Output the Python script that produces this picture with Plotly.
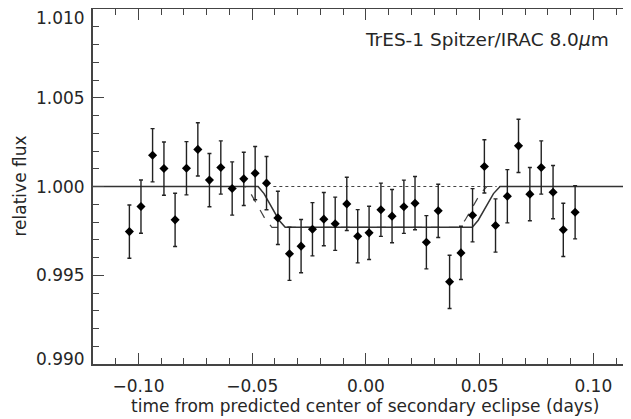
import plotly.graph_objects as go

# Observations (time from predicted center, days) and relative flux
time_days = [-0.1040, -0.0989, -0.0938, -0.0888, -0.0839, -0.0789, -0.0739, -0.0688,
             -0.0638, -0.0588, -0.0537, -0.0487, -0.0437, -0.0387, -0.0336, -0.0285,
             -0.0235, -0.0185, -0.0135, -0.0084, -0.0036, 0.0014, 0.0066, 0.0115,
             0.0167, 0.0216, 0.0266, 0.0318, 0.0368, 0.0418, 0.0469, 0.0521,
             0.0570, 0.0622, 0.0671, 0.0721, 0.0771, 0.0823, 0.0868, 0.0920]
rel_flux = [0.99746, 0.99887, 1.00176, 1.00101, 0.99812, 1.00103, 1.00209, 1.00036,
            1.00107, 0.99989, 1.00043, 1.00075, 1.00019, 0.99823, 0.99621, 0.99664,
            0.99759, 0.99816, 0.99790, 0.99902, 0.99720, 0.99739, 0.99869, 0.99833,
            0.99886, 0.99906, 0.99686, 0.99863, 0.99463, 0.99626, 0.99838, 1.00113,
            0.99780, 0.99945, 1.00229, 0.99957, 1.00107, 0.99968, 0.99756, 0.99855]
flux_err = [0.0015] * 40

# Best-fit eclipse model (solid)
model_t = [-0.1200, -0.0474, -0.0448, -0.0415, -0.0382, -0.0355, 0.0468, 0.0494,
           0.0527, 0.0561, 0.0590, 0.1166]
model_f = [1.0000, 1.0000, 0.99960, 0.99885, 0.99810, 0.99770, 0.99770, 0.99810,
           0.99885, 0.99960, 1.0000, 1.0000]

# Eclipse model at predicted time (dashed)
pred_t = [-0.1200, -0.0532, -0.0506, -0.0473, -0.0440, -0.0413, 0.0410, 0.0436,
          0.0469, 0.0503, 0.0532, 0.1166]
pred_f = [1.0000, 1.0000, 0.99960, 0.99885, 0.99810, 0.99770, 0.99770, 0.99810,
          0.99885, 0.99960, 1.0000, 1.0000]

# Unity reference (dotted)
unity_t = [-0.0407, 0.0575]
unity_f = [1.0, 1.0]

x_ticks = [-0.10, -0.05, 0.00, 0.05, 0.10]
y_ticks = [0.990, 0.995, 1.000, 1.005, 1.010]
y_tick_text = ["0.990", "0.995", "1.000", "1.005", "1.010"]

ink = "#262626"
font = dict(family="DejaVu Sans", size=17, color=ink)

fig = go.Figure()
fig.add_trace(go.Scatter(x=unity_t, y=unity_f, mode="lines",
                         line=dict(color="#444444", width=1.2, dash="dot"),
                         hoverinfo="skip", showlegend=False))
fig.add_trace(go.Scatter(x=pred_t, y=pred_f, mode="lines",
                         line=dict(color="#444444", width=1.2, dash="dash"),
                         hoverinfo="skip", showlegend=False))
fig.add_trace(go.Scatter(x=model_t, y=model_f, mode="lines",
                         line=dict(color="#333333", width=1.5),
                         hoverinfo="skip", showlegend=False))
fig.add_trace(go.Scatter(x=time_days, y=rel_flux, mode="markers",
                         marker=dict(symbol="diamond", size=7, color="black"),
                         error_y=dict(type="data", array=flux_err, visible=True,
                                      color="#222222", thickness=1.4, width=2),
                         showlegend=False))

annots = [
    dict(text="TrES-1 Spitzer/IRAC 8.0<i>μ</i>m", x=-0.0012, y=1.00829,
         xref="x", yref="y", xanchor="left", yanchor="middle",
         showarrow=False, font=dict(family="DejaVu Sans", size=18.5, color=ink)),
    dict(text="time from predicted center of secondary eclipse (days)",
         x=0.5056, y=-0.118, xref="paper", yref="paper",
         xanchor="center", yanchor="middle", showarrow=False, font=font),
    dict(text="relative flux", x=-0.1375, y=0.5, xref="paper", yref="paper",
         xanchor="center", yanchor="middle", textangle=-90, showarrow=False,
         font=font),
]
# y tick labels (edge labels nudged inward, as in the original)
for i, (v, s) in enumerate(zip(y_ticks, y_tick_text)):
    shift = 0
    if i == 0:
        shift = 5
    elif i == len(y_ticks) - 1:
        shift = -9
    annots.append(dict(text=s, x=-0.0112, y=v, xref="paper", yref="y",
                       xanchor="right", yanchor="middle", yshift=shift,
                       showarrow=False, font=font))

fig.update_layout(
    width=623, height=411,
    margin=dict(l=85, r=0, t=1, b=55),
    paper_bgcolor="white", plot_bgcolor="white",
    font=font,
    showlegend=False,
    annotations=annots,
)
fig.update_xaxes(range=[-0.12, 0.11657], tickvals=x_ticks, tickformat=".2f",
                 ticks="inside", ticklen=11, tickwidth=1.3, tickcolor="#444444",
                 showline=True, linecolor="#444444", linewidth=1.5, mirror="ticks",
                 showgrid=False, zeroline=False, ticklabelstandoff=6,
                 minor=dict(ticks="inside", ticklen=6, dtick=0.01, tick0=0,
                            tickcolor="#444444", tickwidth=1.3, showgrid=False),
                 tickfont=font)
fig.update_yaxes(range=[0.990, 1.010], tickvals=y_ticks, showticklabels=False,
                 ticks="inside", ticklen=11, tickwidth=1.3, tickcolor="#444444",
                 showline=True, linecolor="#444444", linewidth=1.5, mirror=False,
                 showgrid=False, zeroline=False,
                 minor=dict(ticks="inside", ticklen=6, dtick=0.001, tick0=0,
                            tickcolor="#444444", tickwidth=1.3, showgrid=False),
                 tickfont=font)

fig.write_html("out.html")
